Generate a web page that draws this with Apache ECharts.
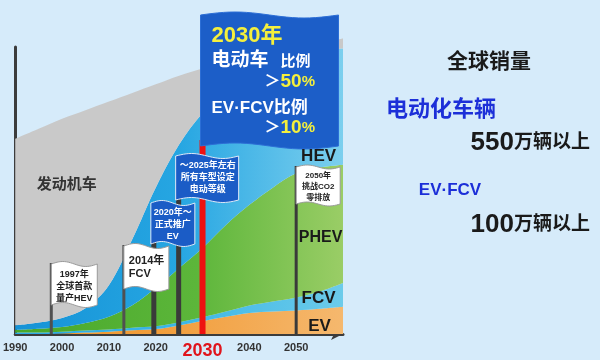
<!DOCTYPE html>
<html><head><meta charset="utf-8">
<script src="https://cdn.jsdelivr.net/npm/echarts@6/dist/echarts.min.js"></script>
<style>html,body{margin:0;padding:0;background:#d6ebfa;}#c{width:600px;height:360px;}</style>
</head><body><div id="c"></div>
<script>
// ---- data ----
const years = [1990,1995,2000,2005,2010,2015,2020,2025,2030,2035,2040,2045,2050,2055,2060];
const evShare     = [0,0,0.2,0.5,0.8,1.3,1.7,3,4.5,6,7.3,7.8,8.2,8.8,9.5];
const fcvShare    = [0.5,0.5,0.6,0.7,0.8,0.9,1,1.1,1.3,1.8,2.6,3.5,4.5,6,8.3];
const phevShare   = [0.9,1.3,1.6,2.6,4.4,7.8,13.3,18.9,24.2,30.2,35.1,39.7,43.3,43.2,41.2];
const hevShare    = [1.6,2.2,3.2,5.2,11,23,35,43,47,47,46,44,41.5,41,40.5];
const engineShare = [65,67.5,69.4,69,64,51,36,24,15.5,10,6,3.5,2.5,2.5,3.5];
const tickLabels  = ['1990','2000','2010','2020','2030','2040','2050'];
const flagYears   = [1997.7, 2013.2, 2019.6, 2024.9, 2030, 2050];
const flagTexts   = [
  ['1997年','全球首款','量产HEV'],
  ['2014年','FCV'],
  ['2020年～','正式推广','EV'],
  ['～2025年左右','所有车型设定','电动等级'],
  [],
  ['2050年','挑战CO2','零排放']
];
const seriesNames = ['EV','FCV','PHEV','HEV','发动机车'];

const CJK = '"Liberation Sans","Noto Sans CJK SC",sans-serif';
const chart = echarts.init(document.getElementById('c'), null, {renderer:'canvas'});
const grad = stops => new echarts.graphic.LinearGradient(0,0,1,0,stops.map(s=>({offset:s[0],color:s[1]})));
const mk = (name, arr, color) => ({
  name, type:'line', stack:'total', data:arr.slice(), symbol:'none', smooth:0.35,
  clip:false, lineStyle:{width:0}, areaStyle:{color, opacity:1}, silent:true
});
chart.setOption({
  backgroundColor:'#d6ebfa',
  animation:false,
  grid:{left:14,right:257,top:47,bottom:26},
  xAxis:{type:'category',data:years.map(String),boundaryGap:false,
    axisLine:{lineStyle:{color:'#3c3c3c',width:3},symbol:['none','arrow'],symbolSize:[9,12]},
    axisTick:{show:false},splitLine:{show:false},
    axisLabel:{interval:0,margin:8,formatter:v=>{const s=String(v);if(tickLabels.indexOf(s)<0)return '';return s==='2030'?'{r|'+s+'}':'{n|'+s+'}';},
      rich:{n:{fontSize:11,fontWeight:'bold',color:'#333',fontFamily:CJK},r:{fontSize:18,fontWeight:'bold',color:'#e0141c',fontFamily:CJK}}}},
  yAxis:{type:'value',min:0,max:100,axisLine:{show:true,lineStyle:{color:'#3c3c3c',width:3}},
    axisLabel:{show:false},axisTick:{show:false},splitLine:{show:false}},
  series:[
    mk(seriesNames[0], evShare, grad([[0,'#ef9424'],[0.5,'#f2a040'],[1,'#f5b86e']])),
    mk(seriesNames[1], fcvShare, grad([[0,'#2aa8e2'],[0.5,'#3cb6e6'],[1,'#6ccbea']])),
    mk(seriesNames[2], phevShare, grad([[0,'#48a82a'],[0.55,'#5cb63a'],[1,'#9acd66']])),
    mk(seriesNames[3], hevShare, grad([[0,'#1592d6'],[0.5,'#26a6e2'],[1,'#7ccfee']])),
    mk(seriesNames[4], engineShare, '#c9c9c9')
  ]
});

const p0 = chart.convertToPixel({xAxisIndex:0}, 0);
const p1 = chart.convertToPixel({xAxisIndex:0}, 1);
const px = y => p0 + (y - years[0]) / (years[1] - years[0]) * (p1 - p0);
const base = chart.convertToPixel({yAxisIndex:0}, 0);
function wave(x0,x1,yT,yB,amp){
  const pts=[], n=24;
  for(let i=0;i<=n;i++){const t=i/n;pts.push([x0+t*(x1-x0), yT-amp*Math.sin(t*2*Math.PI)]);}
  for(let i=n;i>=0;i--){const t=i/n;pts.push([x0+t*(x1-x0), yB-amp*Math.sin(t*2*Math.PI)]);}
  return pts;
}
const g=[];
function pole(x,top,w,color){g.push({type:'line',z:50,shape:{x1:x,y1:base,x2:x,y2:top},style:{stroke:color,lineWidth:w}});}
function flag(x0,x1,yT,yB,amp,fill,stroke){g.push({type:'polygon',z:51,shape:{points:wave(x0,x1,yT,yB,amp)},style:{fill,stroke,lineWidth:1}});}
function txt(x,y,text,size,color,align,extra){g.push({type:'text',z:52,x,y,style:Object.assign({text,fill:color,font:'bold '+size+'px '+CJK,textAlign:align||'center',textVerticalAlign:'middle'},extra||{})});}
const richNum = (a,b,col) => ({rich:{a:{fontSize:a,fontWeight:'bold',fill:col,color:col,fontFamily:CJK},b:{fontSize:b,fontWeight:'bold',fill:col,color:col,fontFamily:CJK}}});

// 1997 flag
let x = px(flagYears[0]);
pole(x,263,3,'#505050'); flag(x,x+46,264,305,2.5,'#ffffff','#9a9a9a');
flagTexts[0].forEach((t,i)=>txt(x+23,275+i*12,t,9,'#222'));
// 2014 flag
x = px(flagYears[1]);
pole(x,245,3,'#505050'); flag(x,x+45,246,289,2.5,'#ffffff','#9a9a9a');
flagTexts[1].forEach((t,i)=>txt(x+5,261+i*13,t,11,'#222','left'));
// 2020 flag
x = px(flagYears[2]);
pole(x,240,5,'#3a3a3a'); flag(x-3,x+41,203,244,2.5,'#1b5cc6','#dfe9f7');
flagTexts[2].forEach((t,i)=>txt(x+19,213+i*12,t,9,'#ffffff'));
// 2025 flag
x = px(flagYears[3]);
pole(x,198,5,'#3a3a3a'); flag(x-3,x+60,156,200,2.5,'#1b5cc6','#dfe9f7');
flagTexts[3].forEach((t,i)=>txt(x+29,166+i*12,t,9,'#ffffff'));
// 2030 flag
x = px(flagYears[4]);
pole(x,140,6,'#ee1111'); flag(x-2,x+136,15,146,3,'#1c5ec8','#2c6ed6');
txt(x+9,36,'2030年',22,'#f5f03c','left');
txt(x+9,61,'电动车',19,'#ffffff','left');
txt(x+78,62,'比例',15,'#ffffff','left');
txt(x+62,82,'＞',16,'#ffffff','left');
txt(x+78,82,'{a|50}{b|%}',1,'#f5f03c','left',richNum(19,15,'#f5f03c'));
txt(x+9,108,'EV·FCV比例',17,'#ffffff','left');
txt(x+62,128,'＞',16,'#ffffff','left');
txt(x+78,128,'{a|10}{b|%}',1,'#f5f03c','left',richNum(19,15,'#f5f03c'));
// 2050 flag
x = px(flagYears[5]);
pole(x,166,3,'#3a3a3a'); flag(x,x+44,167,204,2,'#ffffff','#9a9a9a');
flagTexts[5].forEach((t,i)=>txt(x+22,176+i*11,t,8,'#222'));

// series labels
const xr = px(2055);
txt(xr-1,156,seriesNames[3],17,'#1a1a1a');
txt(xr+1,238,seriesNames[2],16,'#1a1a1a');
txt(xr-1,298,seriesNames[1],17,'#1a1a1a');
txt(xr,326,seriesNames[0],17,'#1a1a1a');
txt(px(2001),185,seriesNames[4],15,'#333');

// right side text
txt(489,62,'全球销量',21,'#1a1a1a');
txt(441,110,'电动化车辆',22,'#1c2fd8');
txt(590,143,'{a|550}{b|万辆以上}',1,'#1a1a1a','right',richNum(26,19,'#1a1a1a'));
txt(450,190,'EV·FCV',17,'#1c2fd8');
txt(590,225,'{a|100}{b|万辆以上}',1,'#1a1a1a','right',richNum(26,19,'#1a1a1a'));

chart.setOption({graphic:g});
</script></body></html>
